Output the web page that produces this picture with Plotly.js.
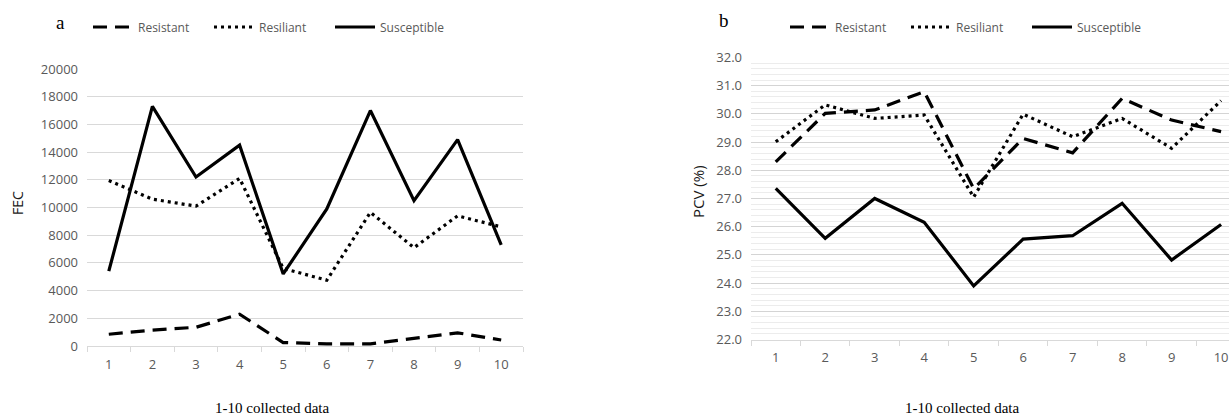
<!DOCTYPE html>
<html>
<head>
<meta charset="utf-8">
<script src="https://cdn.plot.ly/plotly-3.0.1.min.js"></script>
<style>html,body{margin:0;padding:0;background:#fff;overflow:hidden}</style>
</head>
<body>
<div id="chart" style="width:1229px;height:418px"></div>
<script>
// ---- data ----
const samples = ['1','2','3','4','5','6','7','8','9','10'];
const seriesNames = ['Resistant','Resiliant','Susceptible'];
const fecResistant   = [850, 1150, 1350, 2300, 250, 150, 150, 530, 950, 430];
const fecResiliant   = [11950, 10600, 10100, 12100, 5600, 4750, 9650, 7100, 9400, 8600];
const fecSusceptible = [5400, 17300, 12200, 14500, 5200, 9900, 17000, 10500, 14900, 7300];
const pcvResistant   = [28.3, 30.02, 30.14, 30.79, 27.35, 29.13, 28.62, 30.55, 29.78, 29.37];
const pcvResiliant   = [29.01, 30.32, 29.84, 29.96, 27.05, 29.99, 29.19, 29.84, 28.78, 30.47];
const pcvSusceptible = [27.36, 25.59, 27.0, 26.16, 23.9, 25.56, 25.68, 26.83, 24.82, 26.08];
const fecTicks = [0,2000,4000,6000,8000,10000,12000,14000,16000,18000,20000];
const pcvTicks = [22,23,24,25,26,27,28,29,30,31,32];

// ---- styles ----
const W = 1229, H = 418;
const styles = [
  {color:'#000', width:3.2, dash:'14px,8px'},
  {color:'#000', width:3.2, dash:'3px,4px'},
  {color:'#000', width:3.2, dash:'solid'}
];
const tickFont = {family:'Open Sans, sans-serif', size:13, color:'#595959'};
const grid = '#d9d9d9';

function mk(y, i, xa, ya, lg) {
  return {x: samples, y: y, type:'scatter', mode:'lines', name: seriesNames[i],
    line: styles[i], xaxis: xa, yaxis: ya, legend: lg, hoverinfo:'skip'};
}
const traces = [
  mk(fecResistant,0,'x','y','legend'),
  mk(fecResiliant,1,'x','y','legend'),
  mk(fecSusceptible,2,'x','y','legend'),
  mk(pcvResistant,0,'x2','y2','legend2'),
  mk(pcvResiliant,1,'x2','y2','legend2'),
  mk(pcvSusceptible,2,'x2','y2','legend2')
];

const xBase = {type:'category', tickson:'boundaries', ticks:'outside', ticklen:5,
  tickcolor:grid, showline:true, linecolor:grid, linewidth:1, showgrid:false,
  zeroline:false, tickfont:tickFont, ticklabelstandoff:6, fixedrange:true};
const legBase = {orientation:'h', xanchor:'left', yanchor:'middle', bgcolor:'rgba(0,0,0,0)',
  font:{family:'Open Sans, sans-serif', size:12, color:'#595959'},
  entrywidth:66, entrywidthmode:'pixels', itemwidth:40, tracegroupgap:0};

function ann(text, px, py, font, extra) {
  return Object.assign({text:text, x:px/W, y:(H-py)/H, xref:'paper', yref:'paper',
    xanchor:'center', yanchor:'middle', showarrow:false, font:font}, extra || {});
}
const serif = {family:'Liberation Serif, serif', size:19, color:'#000'};
const serifS = {family:'Liberation Serif, serif', size:15, color:'#000'};

const layout = {
  width:W, height:H, margin:{l:0,r:0,t:0,b:0, autoexpand:false},
  paper_bgcolor:'#fff', plot_bgcolor:'#fff', showlegend:true,
  xaxis: Object.assign({}, xBase, {domain:[87/W, 523/W], range:[-0.5, 9.5], anchor:'y'}),
  yaxis: {domain:[(H-346)/H, (H-69)/H], range:[0,20000], tickvals:fecTicks, tickformat:'d',
    gridcolor:grid, gridwidth:1, zeroline:false, showline:false, ticks:'',
    tickfont:tickFont, ticklabelstandoff:8, anchor:'x', fixedrange:true},
  xaxis2: Object.assign({}, xBase, {domain:[751/W, 1], range:[-0.5, 9.16], anchor:'y2'}),
  yaxis2: {domain:[(H-339.5)/H, (H-57.5)/H], range:[22,32], tickvals:pcvTicks,
    tickformat:'.1f', gridcolor:'#d4d4d4', gridwidth:1, zeroline:false, showline:false,
    ticks:'', tickfont:tickFont, ticklabelstandoff:8, anchor:'x2', fixedrange:true,
    minor:{dtick:0.2, showgrid:true, gridcolor:'#ececec', gridwidth:1}},
  legend: Object.assign({}, legBase, {x:88/W, y:(H-27)/H}),
  legend2: Object.assign({}, legBase, {x:785/W, y:(H-27)/H}),
  annotations: [
    ann('a', 60, 22, serif),
    ann('b', 724, 21, serif),
    ann('1-10 collected data', 272, 408, serifS),
    ann('1-10 collected data', 962, 408, serifS),
    ann('FEC', 17, 203, {family:'Open Sans, sans-serif', size:14, color:'#1a1a1a'}, {textangle:-90}),
    ann('PCV (%)', 698, 192, {family:'Open Sans, sans-serif', size:15, color:'#1a1a1a'}, {textangle:-90})
  ]
};

Plotly.newPlot('chart', traces, layout, {staticPlot:true, displayModeBar:false});
</script>
</body>
</html>
